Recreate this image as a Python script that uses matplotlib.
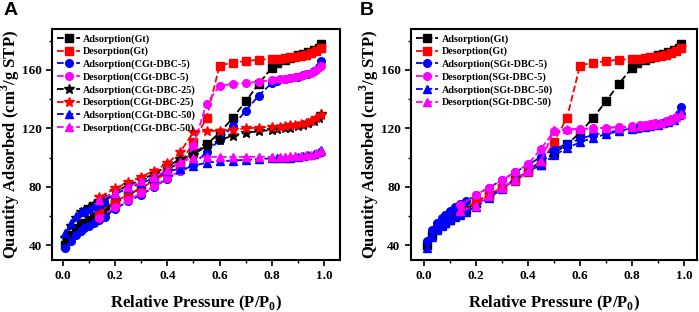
import matplotlib
matplotlib.use('Agg')
import matplotlib.pyplot as plt
from matplotlib.ticker import MultipleLocator

# relative pressure points (adsorption branch, desorption branch)
p_ads = [0.01, 0.03, 0.05, 0.07, 0.08, 0.10, 0.12, 0.14, 0.16, 0.20, 0.25, 0.30, 0.35, 0.40, 0.45,
         0.50, 0.55, 0.60, 0.65, 0.70, 0.75, 0.80, 0.82, 0.85, 0.87, 0.90, 0.92, 0.94, 0.96, 0.98, 0.99]
p_des = [0.99, 0.97, 0.95, 0.93, 0.91, 0.89, 0.87, 0.85, 0.83, 0.80, 0.75, 0.70, 0.65, 0.60, 0.55,
         0.50, 0.45, 0.40, 0.35, 0.30, 0.25, 0.20, 0.14]

# Gt (both panels)
gt_ads = [40, 47, 51, 54, 55.5, 57.5, 60, 62, 64, 69, 74, 79.5, 85, 91, 97.5,
          103, 109, 117, 127, 138.5, 150.5, 161.5, 165, 167, 168.5, 170, 171, 172, 173.5, 175, 178]
gt_des = [175, 173, 171.5, 170.5, 169.8, 169, 168.6, 168.2, 167.8, 167.5, 167, 166, 165, 163, 127,
          111, 95, 90, 84, 79.5, 74.5, 70, 63]

# panel A
cgt5_ads = [38, 43, 47, 50, 51.5, 53.5, 55.5, 57.5, 59.5, 65, 70, 74.5, 80, 85.5, 90.5,
            95, 104, 112, 121.5, 132, 142.5, 151, 152.5, 153.5, 154.5, 155.5, 156.5, 157.5, 159.5, 162, 166]
cgt5_des = [163, 160, 158, 157, 156, 155, 154.5, 154, 153.5, 153, 152, 151, 150.5, 149, 137,
            108, 91, 86, 80.5, 75.5, 71, 66, 59]
cgt25_ads = [45, 53, 59, 62.5, 64, 66.5, 68.5, 70.5, 72.5, 77, 81, 85, 89, 94, 99,
             102, 108, 112, 115, 117, 118, 119, 119.5, 120, 120.5, 121.5, 122.5, 123.5, 125, 127, 130]
cgt25_des = [129, 127, 125, 124, 123, 122.5, 122, 121.5, 121, 121, 120.5, 120, 119, 118.5, 118,
             117.5, 104, 96, 91, 87, 83, 79, 73]
cgt50_ads = [48.5, 55.5, 60, 62.5, 63.5, 65, 67, 68.5, 70.5, 75, 79, 82.5, 86, 90.5, 92.5,
             94.5, 96.5, 97.5, 98, 98.5, 99, 99.5, 99.5, 100, 100, 100.5, 101, 101.5, 102.5, 104, 105.5]
cgt50_des = [104.5, 103, 102, 101.5, 101, 101, 101, 100.5, 100.5, 100.5, 100.5, 100.5, 100.5, 100.5, 100.5,
             100, 97, 91.5, 87, 84, 80, 76, 71]

# panel B
sgt5_ads = [43, 50.5, 55, 59, 61, 63.5, 66, 68, 70, 74.5, 79.5, 84.5, 90, 95, 100.5,
            105.5, 109.5, 112.8, 115.5, 117.3, 118.5, 120, 120.5, 121.5, 122, 123, 124, 125, 126.5, 130, 134.5]
sgt5_des = [130, 128, 126.5, 125, 124, 123.5, 123, 122.5, 122, 121.5, 121, 120.5, 120, 119.5, 119,
            118, 106, 95.5, 90, 84.5, 79.5, 74.5, 67.5]
sgt50_ads = [38, 46, 50.5, 53.5, 55.5, 57.5, 59.5, 61, 62.5, 66.5, 72.5, 78.5, 85, 90.5, 95,
             101.5, 106.5, 110.5, 113.5, 116, 118, 119.5, 120, 121, 121.5, 122.5, 123.5, 124.5, 126, 129, 132.5]
sgt50_des = [130, 128, 126, 124.8, 123.5, 123, 122.5, 122, 121.5, 121, 120.5, 120.5, 120, 119.6, 119.6,
             118.7, 97.5, 90.6, 85, 79.3, 73.5, 67.2, 63.3]

serif = 'Liberation Serif'

series_a = [
    (p_ads, gt_ads, 'black', 's', 'Adsorption(Gt)'),
    (p_des, gt_des, 'red', 's', 'Desorption(Gt)'),
    (p_ads, cgt5_ads, 'blue', 'o', 'Adsorption(CGt-DBC-5)'),
    (p_des, cgt5_des, 'magenta', 'o', 'Desorption(CGt-DBC-5)'),
    (p_ads, cgt25_ads, 'black', '*', 'Adsorption(CGt-DBC-25)'),
    (p_des, cgt25_des, 'red', '*', 'Desorption(CGt-DBC-25)'),
    (p_ads, cgt50_ads, 'blue', '^', 'Adsorption(CGt-DBC-50)'),
    (p_des, cgt50_des, 'magenta', '^', 'Desorption(CGt-DBC-50)'),
]
series_b = [
    (p_ads, gt_ads, 'black', 's', 'Adsorption(Gt)'),
    (p_des, gt_des, 'red', 's', 'Desorption(Gt)'),
    (p_ads, sgt5_ads, 'blue', 'o', 'Adsorption(SGt-DBC-5)'),
    (p_des, sgt5_des, 'magenta', 'o', 'Desorption(SGt-DBC-5)'),
    (p_ads, sgt50_ads, 'blue', '^', 'Adsorption(SGt-DBC-50)'),
    (p_des, sgt50_des, 'magenta', '^', 'Desorption(SGt-DBC-50)'),
]


def drawPanel(ax, series, xlim):
    for x, y, c, m, lab in series:
        ms = 7.5 if m == '*' else 5.5
        ax.plot(x, y, linestyle='--', color=c, marker=m, markersize=ms, linewidth=1.3, label=lab)
    ax.set_xlim(xlim)
    ax.set_ylim(30, 188)
    ax.xaxis.set_major_locator(MultipleLocator(0.2))
    ax.xaxis.set_minor_locator(MultipleLocator(0.1))
    ax.yaxis.set_major_locator(MultipleLocator(40))
    ax.yaxis.set_minor_locator(MultipleLocator(20))
    ax.tick_params(which='major', direction='out', length=4, width=1.2)
    ax.tick_params(which='minor', direction='out', length=2.5, width=1.0)
    for s in ax.spines.values():
        s.set_linewidth(1.5)
    for t in ax.get_yticklabels():
        t.set_fontfamily(serif)
        t.set_fontweight('bold')
        t.set_fontsize(9.5)
    ax.set_xticks([0.0, 0.2, 0.4, 0.6, 0.8, 1.0])
    ax.set_xticklabels(['0.0', '0.2', '0.4', '0.6', '0.8', '1.0'], fontfamily=serif, fontweight='bold', fontsize=9.5)
    ax.set_xlabel('Relative Pressure (P/P$_\\mathbf{0}$)', fontfamily=serif, fontweight='bold', fontsize=12, labelpad=8)
    ax.set_ylabel('Quantity Adsorbed (cm$^\\mathbf{3}$/g STP)', fontfamily=serif, fontweight='bold', fontsize=12, labelpad=0)
    ax.legend(loc='upper left', frameon=False, prop={'family': serif, 'weight': 'bold', 'size': 7.3},
              handlelength=2.2, handletextpad=0.3, labelspacing=0.31, borderaxespad=0.3, borderpad=0.2)


plt.rcParams['mathtext.fontset'] = 'custom'
plt.rcParams['mathtext.rm'] = serif
plt.rcParams['mathtext.bf'] = serif + ':bold'

fig = plt.figure(figsize=(6.99, 3.12), dpi=100)
axA = fig.add_axes([0.075, 0.167, 0.411, 0.74])
axB = fig.add_axes([0.588, 0.167, 0.409, 0.74])
drawPanel(axA, series_a, (-0.04, 1.06))
drawPanel(axB, series_b, (-0.05, 1.05))

fig.text(0.005, 0.995, 'A', fontfamily='Liberation Sans', fontweight='bold', fontsize=14, va='top')
fig.text(0.515, 0.995, 'B', fontfamily='Liberation Sans', fontweight='bold', fontsize=14, va='top')

fig.savefig('out.png', dpi=100)
